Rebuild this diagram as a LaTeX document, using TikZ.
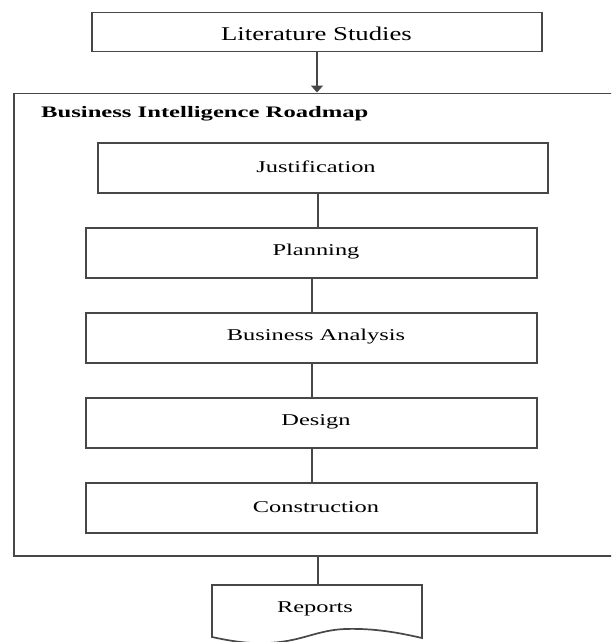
\documentclass[tikz,border=0pt]{standalone}
\usepackage{graphicx}
\usepackage{fontspec}
\setmainfont{Liberation Serif}
\usetikzlibrary{arrows.meta}
\newcommand\widetext[1]{\scalebox{1.48}[1]{#1}}
\begin{document}
\begin{tikzpicture}[x=1pt,y=-1pt,
  boxline/.style={draw=black!72, line width=1.7pt},
  stepbox/.style={boxline, minimum width=#1, minimum height=50pt, inner sep=0pt},
  steptext/.style={inner sep=0pt, font=\fontsize{16.5}{18}\selectfont},
  conn/.style={black!72, line width=2pt},
  titletext/.style={inner sep=0pt, anchor=base west, font=\fontsize{16}{18}\selectfont\bfseries}
]
\useasboundingbox (0,0) rectangle (611,642);
\clip (0,0) rectangle (611,642);
\fill[white] (0,0) rectangle (611,642);

% top box
\node[stepbox=450pt, minimum height=39pt] (lit) at (317,32) {};
\node[inner sep=0pt, anchor=base, font=\fontsize{19.5}{22}\selectfont] (littext) at (316.5,41)
  {\scalebox{1.37}[1]{Literature Studies}};

% container
\node[boxline, anchor=north west, minimum width=640pt, minimum height=462.5pt, inner sep=0pt]
  (cont) at (13,92.5) {};
\node[titletext] (title) at (41,117) {\scalebox{1.54}[1]{Business Intelligence Roadmap}};

% steps
\node[stepbox=450pt] (just) at (323,168) {};
\node[stepbox=451pt] (plan) at (311.5,253) {};
\node[stepbox=451pt] (ba)   at (311.5,338) {};
\node[stepbox=451pt] (des)  at (311.5,423) {};
\node[stepbox=451pt] (con)  at (311.5,508) {};
\node[steptext] (justtext) at (316,167) {\widetext{Justification}};
\node[steptext] (plantext) at (316,252) {\widetext{Planning}};
\node[steptext] (batext)   at (316,337) {\widetext{Business Analysis}};
\node[steptext] (destext)  at (316,422) {\widetext{Design}};
\node[steptext] (context)  at (316,507) {\widetext{Construction}};

% reports (document shape)
\coordinate (reptop) at (318,585);
\draw[boxline, fill=white] (212,585) -- (422,585) -- (422,638)
  .. controls (400,633) and (375,628) .. (345,629)
  .. controls (320,630) and (305,639) .. (280,642)
  .. controls (255,645) and (235,642) .. (212,637) -- cycle;
\node[steptext] (rep) at (315,609) {\widetext{Reports}};

% connectors
\coordinate (cx) at (317.5,0);
\draw[conn, -{Triangle[width=12pt,length=7pt]}] (lit.south) -- (lit.south |- cont.north);
\draw[conn] (just.south -| cx) -- (plan.north -| cx);
\draw[conn] (plan) -- (ba);
\draw[conn] (ba) -- (des);
\draw[conn] (des) -- (con);
\draw[conn] (cont.south -| reptop) -- (reptop);
\end{tikzpicture}
\end{document}
